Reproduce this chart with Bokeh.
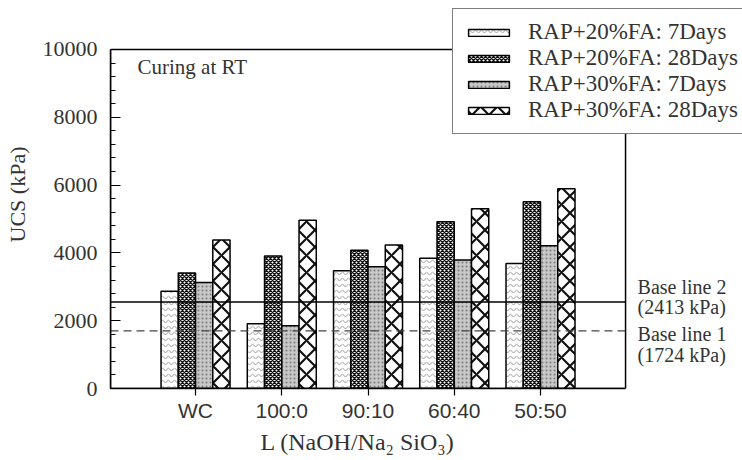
from bokeh.plotting import figure
from bokeh.models import (Range1d, Legend, LegendItem, Label, BoxAnnotation, Title,
                          FixedTicker, SingleIntervalTicker, ColumnDataSource)
from bokeh.transform import dodge
from bokeh.embed import file_html
from bokeh.resources import INLINE

# ---------------- data ----------------
categories = ["WC", "100:0", "90:10", "60:40", "50:50"]
fa20_7d = [2870, 1910, 3470, 3840, 3690]
fa20_28d = [3410, 3910, 4080, 4920, 5510]
fa30_7d = [3130, 1850, 3590, 3790, 4210]
fa30_28d = [4380, 4960, 4230, 5300, 5890]
series_names = ["RAP+20%FA: 7Days", "RAP+20%FA: 28Days",
                "RAP+30%FA: 7Days", "RAP+30%FA: 28Days"]
base_line_values = [1700, 2550]          # positions as drawn
base_line_titles = ["Base line 1", "Base line 2"]
base_line_notes = ["(1724 kPa)", "(2413 kPa)"]
annotation_text = "Curing at RT"
x_title = "L (NaOH/Na\u2082 SiO\u2083)"
y_title = "UCS (kPa)"
y_max = 10000

SERIF = "Liberation Serif"
SANS = "Liberation Sans"
TXT = "#333333"

n = len(categories)
pos = list(range(n))
src = ColumnDataSource(dict(pos=pos, a=fa20_7d, b=fa20_28d, c=fa30_7d, d=fa30_28d))

pad = 0.986                     # space between outer groups and the box
x_lo, x_hi = -pad, (n - 1) + pad
# the frame extends beyond the drawn box to host the legend and right-hand notes
p = figure(width=742, height=460, title=None,
           x_range=Range1d(x_lo, 6.342), y_range=Range1d(0, 11445),
           output_backend="svg", toolbar_location=None,
           min_border_left=110, min_border_right=0,
           min_border_top=0, min_border_bottom=72)

p.grid.visible = False
p.outline_line_color = None
p.background_fill_color = "white"
p.border_fill_color = "white"

styles = [
    dict(fill_color="white", hatch_pattern="horizontal_wave", hatch_color="#9a9a9a",
         hatch_scale=6, hatch_weight=1),
    dict(fill_color="white", hatch_pattern="diagonal_cross", hatch_color="#111111",
         hatch_scale=4, hatch_weight=1.4),
    dict(fill_color="#c8c8c8", hatch_pattern="dot", hatch_color="#7a7a7a",
         hatch_scale=4, hatch_weight=1),
    dict(fill_color="white", hatch_pattern="diagonal_cross", hatch_color="#111111",
         hatch_scale=17, hatch_weight=2.2),
]
cols = ["a", "b", "c", "d"]
offsets = [-0.3, -0.1, 0.1, 0.3]
renderers = []
for col, off, st in zip(cols, offsets, styles):
    r = p.vbar(x=dodge("pos", off), top=col, width=0.2,
               source=src, line_color="black", line_width=1.5, **st)
    renderers.append(r)

# base lines (across the box only)
p.segment(x0=x_lo, x1=x_hi, y0=base_line_values[1], y1=base_line_values[1],
          line_color="black", line_width=1.5)
p.segment(x0=x_lo, x1=x_hi, y0=base_line_values[0], y1=base_line_values[0],
          line_color="#444444", line_width=1.2, line_dash="8 5")

# box around the plotting area
p.add_layout(BoxAnnotation(left=x_lo, right=x_hi, bottom=0, top=y_max,
                           fill_alpha=0, fill_color=None,
                           line_color="black", line_alpha=1.0, line_width=1.5))

# base line notes
offs = {0: (-3, -24), 1: (15, -5)}
for i, (val, t1, t2) in enumerate(zip(base_line_values, base_line_titles, base_line_notes)):
    for txt, off in zip((t1, t2), offs[i]):
        p.add_layout(Label(x=x_hi, y=val, x_offset=12, y_offset=off, text=txt,
                           text_font=SERIF, text_font_size="20px",
                           text_color=TXT, text_baseline="middle"))

p.add_layout(Label(x=x_lo, y=y_max, x_offset=27, y_offset=-18, text=annotation_text,
                   text_font=SERIF, text_font_size="21px", text_color=TXT,
                   text_baseline="middle"))

# axes
xa = p.xaxis[0]
xa.ticker = FixedTicker(ticks=pos)
xa.major_label_overrides = {i: c for i, c in zip(pos, categories)}
xa.bounds = (x_lo, x_hi)
xa.axis_line_color = "black"
xa.axis_line_width = 1.5
xa.major_tick_in = 5
xa.major_tick_out = 7
xa.major_tick_line_width = 1.2
xa.minor_tick_line_color = None
xa.major_label_text_font = SANS
xa.major_label_text_font_size = "21px"
xa.major_label_text_color = TXT
xa.major_label_standoff = 3

# x title centred under the box (not under the wider frame)
p.add_layout(Title(text=x_title, align="left", offset=150, standoff=4,
                   text_font=SERIF, text_font_size="24px", text_font_style="normal",
                   text_color=TXT), "below")

ya = p.yaxis[0]
ya.ticker = SingleIntervalTicker(interval=2000, num_minor_ticks=5)
ya.bounds = (0, y_max)
ya.axis_line_color = "black"
ya.axis_line_width = 1.5
ya.major_tick_in = 10
ya.major_tick_out = 0
ya.minor_tick_in = 5
ya.minor_tick_out = 0
ya.major_label_standoff = 13
ya.major_label_text_font = SERIF
ya.major_label_text_font_size = "22px"
ya.major_label_text_color = TXT
ya.axis_label = y_title
ya.axis_label_text_font = SERIF
ya.axis_label_text_font_size = "22px"
ya.axis_label_text_font_style = "normal"
ya.axis_label_text_color = TXT
ya.axis_label_standoff = 10

legend = Legend(items=[LegendItem(label=nm, renderers=[r]) for nm, r in zip(series_names, renderers)],
                location=(342, 254), orientation="vertical",
                glyph_width=51, glyph_height=9, label_standoff=14,
                padding=10, spacing=-4, margin=0,
                label_text_font=SERIF, label_text_font_size="23px",
                label_text_color=TXT, label_height=20, label_text_line_height=1.0,
                border_line_color="black", border_line_width=1.5,
                background_fill_color="white", background_fill_alpha=1.0)
p.add_layout(legend)

open("out.html", "w").write(file_html(p, INLINE))
